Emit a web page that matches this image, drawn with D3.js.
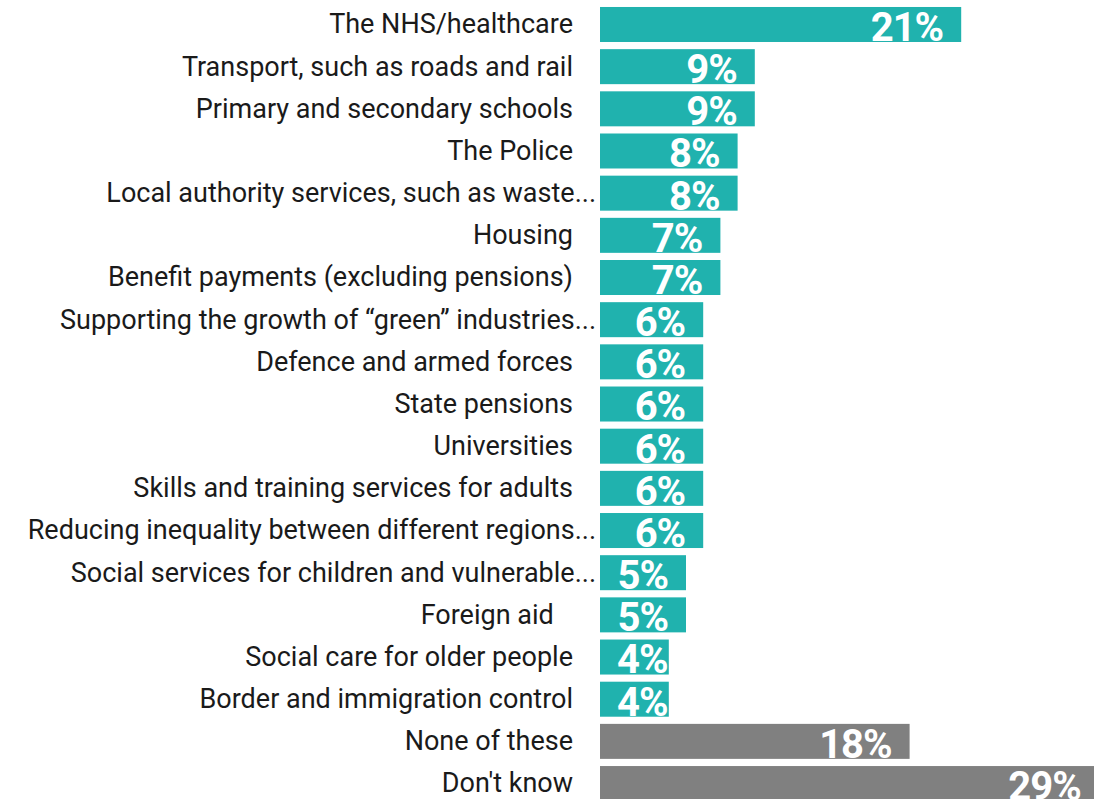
<!DOCTYPE html>
<html>
<head>
<meta charset="utf-8">
<script src="https://cdn.jsdelivr.net/npm/d3@7"></script>
<style>
  html, body { margin: 0; padding: 0; background: #fff; overflow: hidden; }
  svg { display: block; }
</style>
</head>
<body>
<div id="chart"></div>
<script>
// dimensions de la page
const width = 1094, height = 799;

// données
const categories = [
  "The NHS/healthcare",
  "Transport, such as roads and rail",
  "Primary and secondary schools",
  "The Police",
  "Local authority services, such as waste...",
  "Housing",
  "Benefit payments (excluding pensions)",
  "Supporting the growth of \u201cgreen\u201d industries...",
  "Defence and armed forces",
  "State pensions",
  "Universities",
  "Skills and training services for adults",
  "Reducing inequality between different regions...",
  "Social services for children and vulnerable...",
  "Foreign aid ",
  "Social care for older people",
  "Border and immigration control",
  "None of these",
  "Don't know"
];
const values = [21, 9, 9, 8, 8, 7, 7, 6, 6, 6, 6, 6, 6, 5, 5, 4, 4, 18, 29];
const valueLabels = ["21%", "9%", "9%", "8%", "8%", "7%", "7%", "6%", "6%", "6%", "6%", "6%", "6%", "5%", "5%", "4%", "4%", "18%", "29%"];
const greyCategories = ["None of these", "Don't know"];

const teal = "#20b2ae", grey = "#808080";

const data = categories.map((c, i) => ({ cat: c, value: values[i], label: valueLabels[i] }));

const x = d3.scaleLinear()
    .domain([0, 29])
    .range([600, 1098.8]);

const step = 42.17;
const y = d3.scaleBand()
    .domain(categories)
    .range([3.4, 3.4 + step * categories.length])
    .paddingInner(0.17)
    .paddingOuter(0.085);

const svg = d3.select("#chart")
    .append("svg")
    .attr("width", width)
    .attr("height", height);

const defs = svg.append("defs");

// étiquettes des catégories
svg.append("g")
    .selectAll("text")
    .data(data)
    .enter()
    .append("text")
    .attr("x", d => d.cat.endsWith("...") ? 596 : 573)
    .attr("y", d => y(d.cat) + y.bandwidth() / 2)
    .attr("dy", "0.33em")
    .attr("text-anchor", "end")
    .attr("xml:space", "preserve")
    .style("white-space", "pre")
    .style("font-family", "Roboto, sans-serif")
    .style("font-size", "27px")
    .style("fill", "#1a1a1a")
    // l'espace final de "Foreign aid " est gardé
    .text(d => d.cat.endsWith(" ") ? d.cat.trim() + "\u2002\u2009" : d.cat);

// barres
const bars = svg.append("g")
    .selectAll("g")
    .data(data)
    .enter()
    .append("g");

bars.each(function(d, i) {
  defs.append("clipPath")
      .attr("id", "clip" + i)
    .append("rect")
      .attr("x", x(0))
      .attr("y", y(d.cat))
      .attr("width", x(d.value) - x(0))
      .attr("height", y.bandwidth());
});

bars.append("rect")
    .attr("x", x(0))
    .attr("y", d => y(d.cat))
    .attr("width", d => x(d.value) - x(0))
    .attr("height", y.bandwidth())
    .attr("fill", d => greyCategories.includes(d.cat) ? grey : teal);

// valeurs dans les barres (coupées au bout de la barre)
bars.append("text")
    .attr("clip-path", (d, i) => "url(#clip" + i + ")")
    .attr("y", d => y(d.cat) + y.bandwidth() / 2)
    .attr("dy", "0.41em")
    .style("font-family", "Roboto, sans-serif")
    .style("font-weight", "bold")
    .style("font-size", "40px")
    .style("letter-spacing", "-1px")
    .style("fill", "#fff")
    .text(d => d.label)
    .attr("x", function(d) {
      const w = this.getComputedTextLength();
      return Math.max(x(0) + 17, x(d.value) - 18 - w);
    });
</script>
</body>
</html>
